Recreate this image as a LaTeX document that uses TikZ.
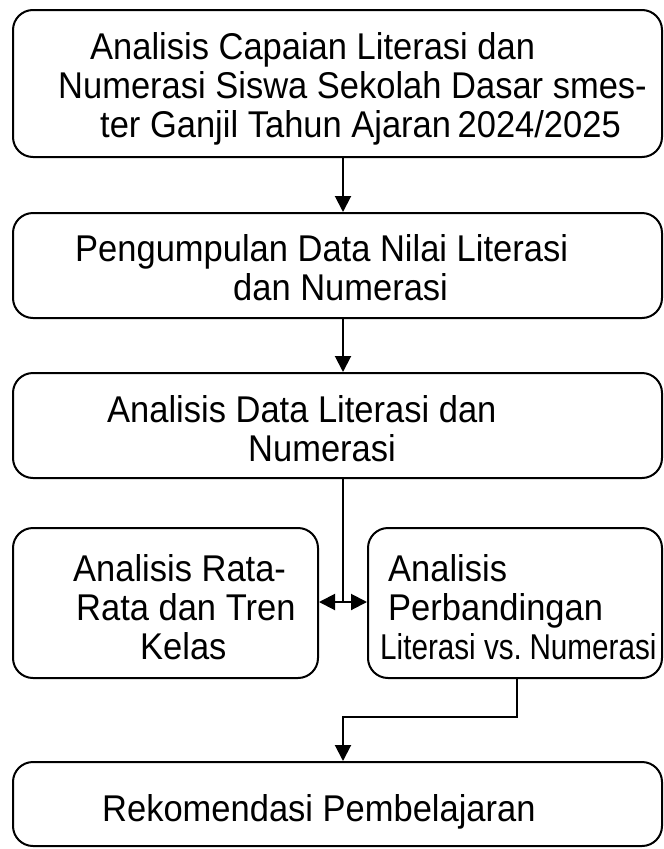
\documentclass[tikz,border=0pt]{standalone}
\usepackage{fontspec}
\setmainfont{Liberation Sans}
\usetikzlibrary{arrows.meta}
% slightly tall lettering used in every label
\newcommand\tallx[1]{\scalebox{1}[1.08]{#1}}
\begin{document}
\begin{tikzpicture}[x=1pt,y=-1pt,
  box/.style={draw=black, line width=2pt, rounded corners=20pt, inner sep=0pt},
  txt/.style={anchor=base west, inner sep=0pt, font=\fontsize{34.5}{40}\selectfont},
  link/.style={draw=black, line width=2pt},
  tip/.style={},
  arr/.style={link, -{Triangle[length=16pt,width=16pt]}},
  dblarr/.style={link, {Triangle[length=16pt,width=16pt]}-{Triangle[length=16pt,width=16pt]}}]
  \useasboundingbox[fill=white] (0,0) rectangle (664,849);

  % process boxes
  \node[box, minimum width=649pt, minimum height=147pt] (b1) at (337.5,83.5) {};
  \node[box, minimum width=649pt, minimum height=105pt] (b2) at (337.5,265.5) {};
  \node[box, minimum width=649pt, minimum height=105pt] (b3) at (337.5,425.5) {};
  \node[box, minimum width=305pt, minimum height=150pt] (bl) at (165.5,603) {};
  \node[box, minimum width=294pt, minimum height=150pt] (br) at (515,603) {};
  \node[box, minimum width=649pt, minimum height=84pt] (b4) at (337.5,804) {};

  % labels
  \node[txt] (t1a) at (90,59) {\tallx{Analisis Capaian Literasi dan}};
  \node[txt] (t1b) at (58,98) {\tallx{Numerasi Siswa Sekolah Dasar smes-}};
  \node[txt] (t1c) at (100,137) {\tallx{ter Ganjil Tahun Ajaran\hspace{-3pt} 2024/2025}};
  \node[txt] (t2a) at (75,261) {\tallx{Pengumpulan Data Nilai Literasi}};
  \node[txt] (t2b) at (233,300) {\tallx{dan Numerasi}};
  \node[txt] (t3a) at (107,422) {\tallx{Analisis Data Literasi dan}};
  \node[txt] (t3b) at (248,461) {\tallx{Numerasi}};
  \node[txt] (tla) at (73,581) {\tallx{Analisis Rata-}};
  \node[txt] (tlb) at (76,620) {\tallx{Rata dan Tren}};
  \node[txt] (tlc) at (140,659) {\tallx{Kelas}};
  \node[txt] (tra) at (388,581) {\tallx{Analisis}};
  \node[txt] (trb) at (388,620) {\tallx{Perbandingan}};
  \node[txt] (trc) at (380,659) {\scalebox{0.86}[1.04]{Literasi vs.\hspace{-4pt} Numerasi}};
  \node[txt] (t4) at (102,821) {\tallx{Rekomendasi Pembelajaran}};

  % connector guides
  \coordinate (col) at (343,0);
  \coordinate (split) at (343,602);
  \coordinate (bend) at (517,717);

  % connectors
  \draw[arr] (b1.south -| col) -- (b2.north -| col);
  \draw[arr] (b2.south -| col) -- (b3.north -| col);
  \draw[link] (b3.south -| col) -- (split);
  \draw[dblarr] (bl.east |- split) -- (br.west |- split);
  \draw[arr] (br.south -| bend) -- (bend) -| (b4.north -| col);
\end{tikzpicture}
\end{document}
